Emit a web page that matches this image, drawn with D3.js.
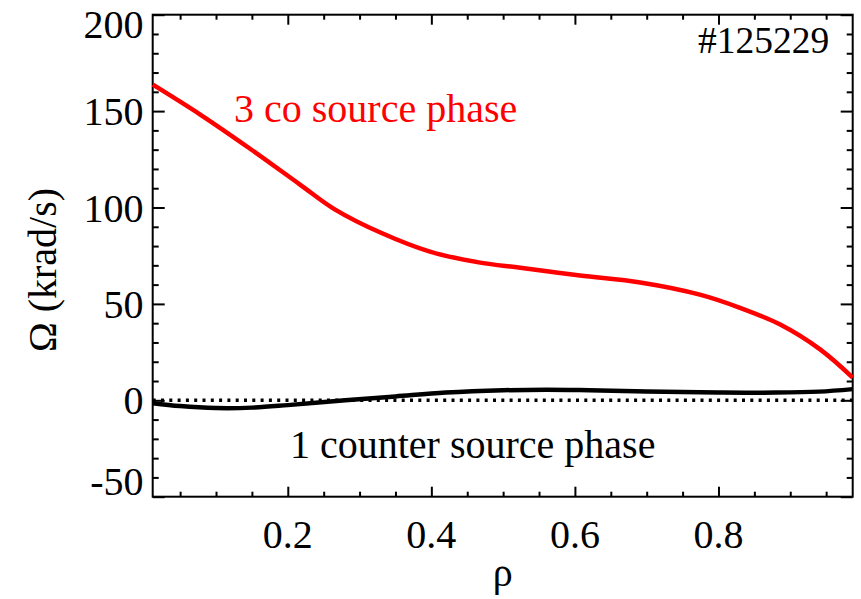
<!DOCTYPE html>
<html><head><meta charset="utf-8">
<script src="https://cdn.jsdelivr.net/npm/d3@7"></script>
<style>body{margin:0;background:#fff}svg text{font-family:"Liberation Serif","Times New Roman",serif}</style>
</head><body><svg id="c" width="861" height="599"></svg>
<script>
const coRho = [0.012,0.078,0.147,0.217,0.266,0.329,0.398,0.468,0.524,0.607,0.691,0.774,0.829,0.886,0.942,0.987];
const coVal = [163.7,148.2,130.6,111.9,98.9,87.0,77.1,71.4,68.8,64.7,61.1,54.8,48.1,39.3,26.3,11.8];
const ctrRho = [0.012,0.05,0.1,0.15,0.2,0.28,0.35,0.42,0.5,0.56,0.62,0.7,0.8,0.88,0.94,0.987];
const ctrVal = [-1.5,-3.0,-4.0,-3.8,-2.5,0.0,2.0,4.0,5.2,5.5,5.2,4.6,4.1,4.0,4.5,5.8];
const xTicks = [0.2,0.4,0.6,0.8];
const yTicks = [-50,0,50,100,150,200];
const labels = {co:"3 co source phase", ctr:"1 counter source phase", shot:"#125229", x:"ρ", y:"Ω (krad/s)"};

const svg = d3.select("#c");
const L=152.7,R=852.7,T=14.7,B=496.7;
const x = d3.scaleLinear().domain([0.0118,0.987]).range([L,R]);
const y = d3.scaleLinear().domain([-50,200]).range([B,T]);

const xMinor = d3.range(0.05,0.99,0.05).filter(v=>!xTicks.some(t=>Math.abs(t-v)<1e-6));
const yMinor = d3.range(-40,200,10).filter(v=>v%50!==0);

function ax(gen, tr){ const g=svg.append("g").attr("transform",tr).call(gen); g.selectAll("text").remove(); g.select(".domain").remove(); g.selectAll("line").attr("stroke","#000").attr("stroke-width",2); return g;}
ax(d3.axisBottom(x).tickValues(xTicks).tickSize(-10),`translate(0,${B})`);
ax(d3.axisBottom(x).tickValues(xMinor).tickSize(-5),`translate(0,${B})`);
ax(d3.axisTop(x).tickValues(xTicks).tickSize(-10),`translate(0,${T})`);
ax(d3.axisTop(x).tickValues(xMinor).tickSize(-5),`translate(0,${T})`);
ax(d3.axisLeft(y).tickValues(yTicks).tickSize(-12),`translate(${L},0)`);
ax(d3.axisLeft(y).tickValues(yMinor).tickSize(-6),`translate(${L},0)`);
ax(d3.axisRight(y).tickValues(yTicks).tickSize(-12),`translate(${R},0)`);
ax(d3.axisRight(y).tickValues(yMinor).tickSize(-6),`translate(${R},0)`);

svg.append("rect").attr("x",L).attr("y",T).attr("width",R-L).attr("height",B-T).attr("fill","none").attr("stroke","#000").attr("stroke-width",2);

// tick labels (end labels pulled inside the frame as in the reference)
const yOff = d => d===200 ? 23 : (d===-50 ? -2 : 14);
svg.selectAll(".xl").data(xTicks).enter().append("text").attr("x",d=>x(d)).attr("y",548).attr("text-anchor","middle").attr("font-size",40).text(d=>d.toFixed(1));
svg.selectAll(".yl").data(yTicks).enter().append("text").attr("x",143.5).attr("y",d=>y(d)+yOff(d)).attr("text-anchor","end").attr("font-size",40).text(d=>d);

// zero dotted line
svg.append("line").attr("x1",L).attr("x2",R).attr("y1",y(0)).attr("y2",y(0)).attr("stroke","#000").attr("stroke-width",3.5).attr("stroke-dasharray","3 5.3");

const line = d3.line().x(d=>x(d[0])).y(d=>y(d[1])).curve(d3.curveCatmullRom);
svg.append("path").datum(ctrRho.map((r,i)=>[r,ctrVal[i]])).attr("d",line).attr("fill","none").attr("stroke","#000").attr("stroke-width",4.5);
svg.append("path").datum(coRho.map((r,i)=>[r,coVal[i]])).attr("d",line).attr("fill","none").attr("stroke","#ff0000").attr("stroke-width",4.5);

svg.append("text").attr("x",234).attr("y",122.3).attr("font-size",40).attr("fill","#ff0000").text(labels.co);
svg.append("text").attr("x",290).attr("y",458.3).attr("font-size",40).attr("fill","#000").text(labels.ctr);
svg.append("text").attr("x",698).attr("y",53).attr("font-size",37.5).attr("fill","#000").text(labels.shot);
svg.append("text").attr("x",502.7).attr("y",586).attr("text-anchor","middle").attr("font-size",40).text(labels.x);
svg.append("text").attr("transform","translate(56,270) rotate(-90)").attr("text-anchor","middle").attr("font-size",40).text(labels.y);
</script></body></html>
